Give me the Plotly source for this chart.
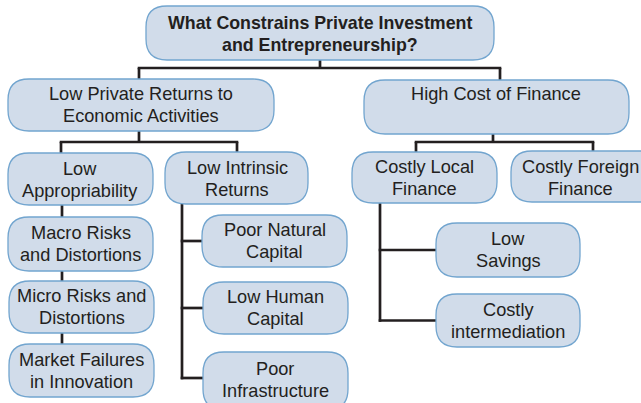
import plotly.graph_objects as go

# ---- data: node labels and tree structure ----
node_ids = ["root", "lpr", "hcf", "lapp", "lint", "clf", "cff",
            "macro", "micro", "mkt", "pnc", "lhc", "pinf", "lsav", "cint"]
node_labels = [
    "What Constrains Private Investment<br>and Entrepreneurship?",
    "Low Private Returns to<br>Economic Activities",
    "High Cost of Finance",
    "Low<br>Appropriability",
    "Low Intrinsic<br>Returns",
    "Costly Local<br>Finance",
    "Costly Foreign<br>Finance",
    "Macro Risks<br>and Distortions",
    "Micro Risks and<br>Distortions",
    "Market Failures<br>in Innovation",
    "Poor Natural<br>Capital",
    "Low Human<br>Capital",
    "Poor<br>Infrastructure",
    "Low<br>Savings",
    "Costly<br>intermediation",
]
edges_fork = [("root", ["lpr", "hcf"]), ("lpr", ["lapp", "lint"]), ("hcf", ["clf", "cff"])]
edges_chain = [["lapp", "macro", "micro", "mkt"]]
edges_side = [("lint", ["pnc", "lhc", "pinf"]), ("clf", ["lsav", "cint"])]

# ---- layout geometry (pixels) ----
boxes = {
    "root": (146, 6, 494, 60),
    "lpr": (8, 79, 274, 131),
    "hcf": (364, 80, 629, 134),
    "lapp": (8, 153, 153, 205),
    "lint": (165, 152, 308, 204),
    "clf": (352, 152, 497, 203),
    "cff": (511, 151, 665, 202),
    "macro": (8, 217, 153, 271),
    "micro": (9, 281, 154, 333),
    "mkt": (9, 344, 154, 397),
    "pnc": (202, 215, 347, 267),
    "lhc": (203, 282, 348, 334),
    "pinf": (203, 352, 348, 410),
    "lsav": (436, 223, 580, 277),
    "cint": (436, 294, 580, 347),
}
text_pos = {"hcf": (496, 94), "cff": (580, 178), "root": (320, 34), "pinf": (275, 380),
            "lapp": (80, 179.5), "lint": (237, 178.5)}
fork_y = {"root": 68, "lpr": 142, "hcf": 142}
fork_x = {"root": 320, "lpr": 139, "hcf": 493}
child_x = {"lpr": 139, "hcf": 500, "lapp": 61, "lint": 237, "clf": 416, "cff": 593}
side_x = {"lint": 182, "clf": 380}
LINE_GAP = 22

FILL = "#d1dcea"
EDGE = "#72a5cf"
LINE = "#231f20"
TXT = "#231f20"

fig = go.Figure()
shapes = []


def rbox(x0, y0, x1, y1, r=21):
    r = min(r, (y1 - y0) / 2)
    return (f"M{x0+r},{y0} L{x1-r},{y0} Q{x1},{y0} {x1},{y0+r} L{x1},{y1-r} "
            f"Q{x1},{y1} {x1-r},{y1} L{x0+r},{y1} Q{x0},{y1} {x0},{y1-r} "
            f"L{x0},{y0+r} Q{x0},{y0} {x0+r},{y0} Z")


def seg(x0, y0, x1, y1):
    shapes.append(dict(type="line", x0=x0, y0=y0, x1=x1, y1=y1, xref="x", yref="y",
                       line=dict(color=LINE, width=2.7), layer="below"))


for parent, kids in edges_fork:
    px0, py0, px1, py1 = boxes[parent]
    fx, fy = fork_x[parent], fork_y[parent]
    seg(fx, py1, fx, fy)
    xs = [child_x[k] for k in kids]
    seg(min(xs) - 1.3, fy, max(xs) + 1.3, fy)
    for k in kids:
        seg(child_x[k], fy, child_x[k], boxes[k][1] + 2)

for chain in edges_chain:
    for a, b in zip(chain[:-1], chain[1:]):
        seg(62, boxes[a][3], 62, boxes[b][1])

for parent, kids in edges_side:
    sx = side_x[parent]
    ys = [(boxes[k][1] + boxes[k][3]) / 2 if k != "pinf" else 378 for k in kids]
    seg(sx, boxes[parent][3], sx, max(ys) + 1.3)
    for k, yy in zip(kids, ys):
        seg(sx - 1.3, yy, boxes[k][0], yy)

for nid, lab in zip(node_ids, node_labels):
    x0, y0, x1, y1 = boxes[nid]
    shapes.append(dict(type="path", path=rbox(x0, y0, x1, y1), xref="x", yref="y",
                       fillcolor=FILL, line=dict(color=EDGE, width=1.3), layer="above"))
    tx, ty = text_pos.get(nid, ((x0 + x1) / 2, (y0 + y1) / 2))
    lines = lab.split("<br>")
    n = len(lines)
    for i, ln in enumerate(lines):
        t = f"<b>{ln}</b>" if nid == "root" else ln
        fig.add_annotation(x=tx, y=ty + (i - (n - 1) / 2) * LINE_GAP, text=t,
                           showarrow=False, xref="x", yref="y",
                           font=dict(family="Liberation Sans, Arial, sans-serif",
                                     size=17.8 if nid == "root" else 18.2, color=TXT),
                           align="center", xanchor="center", yanchor="middle")

fig.update_layout(
    width=641, height=403, margin=dict(l=0, r=0, t=0, b=0),
    paper_bgcolor="white", plot_bgcolor="white", shapes=shapes, showlegend=False,
    xaxis=dict(range=[0, 641], visible=False, fixedrange=True),
    yaxis=dict(range=[403, 0], visible=False, fixedrange=True),
)
fig.write_html("out.html", config={"displayModeBar": False},
               post_script="document.body.style.margin='0';document.body.style.overflow='hidden';")
